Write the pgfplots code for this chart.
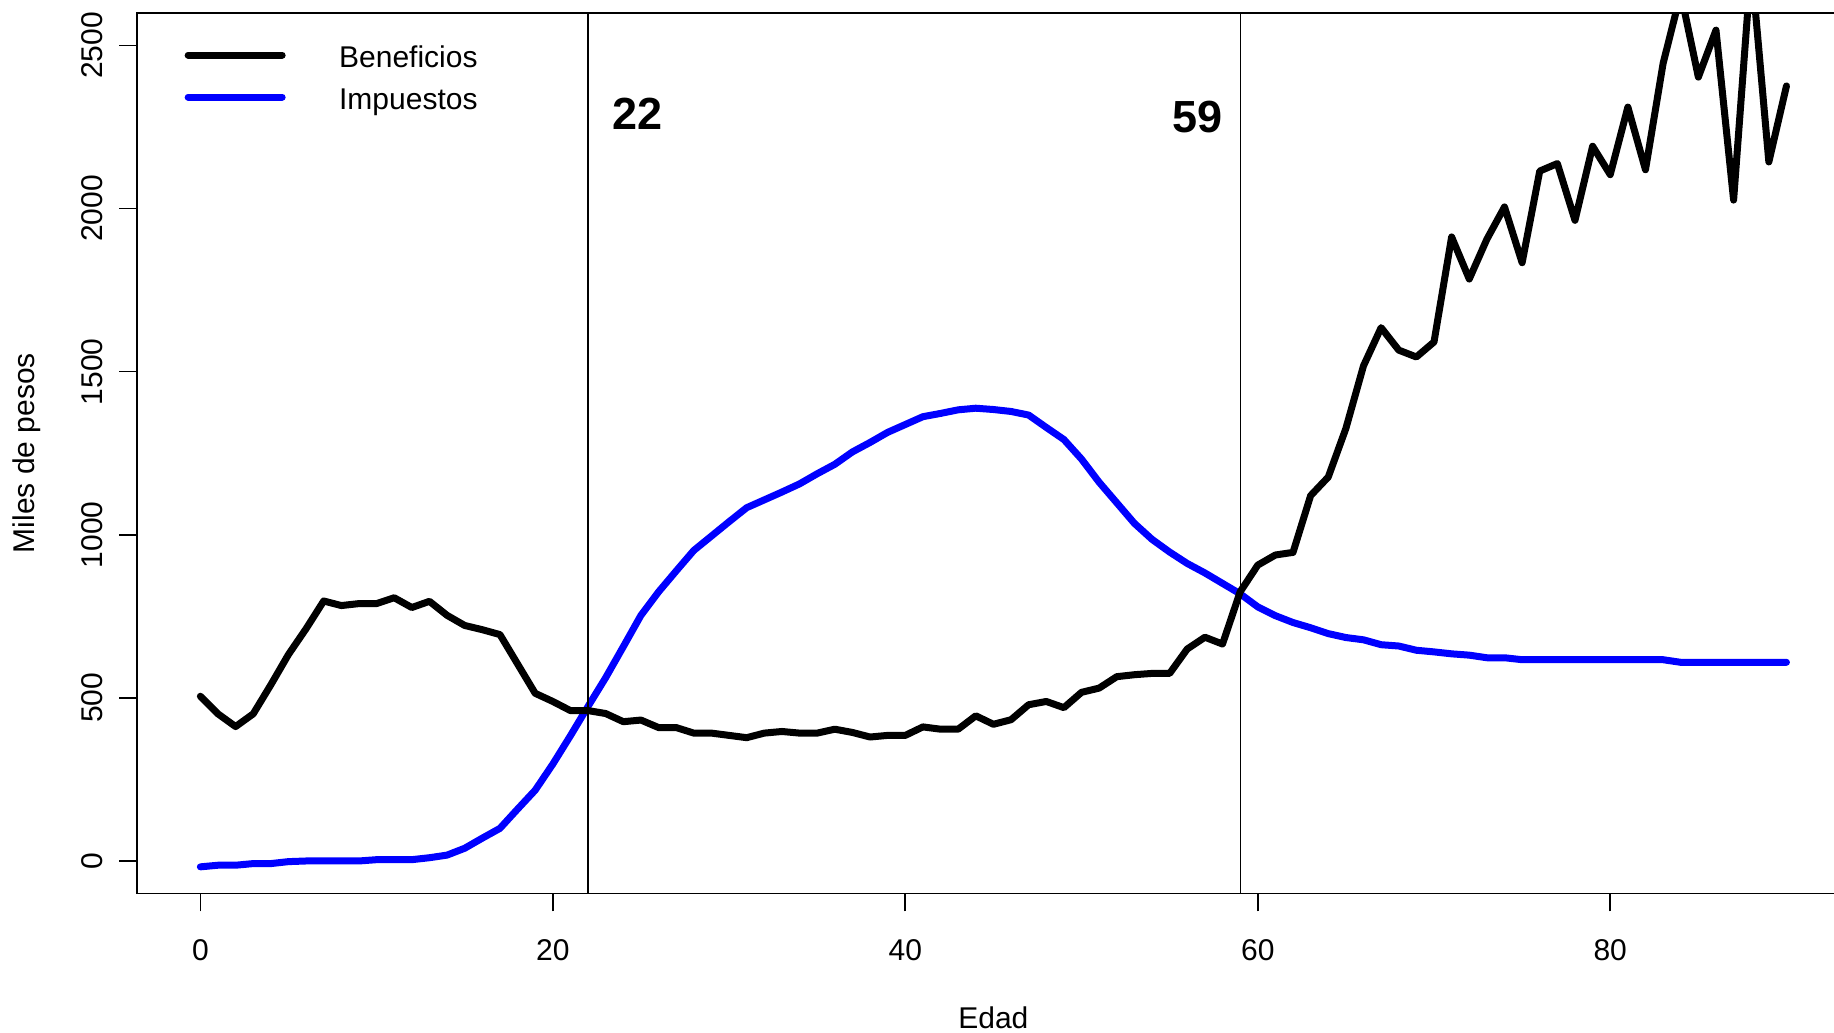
\documentclass[border=0pt]{standalone}
\usepackage{fontspec}
\setmainfont{Liberation Sans}
\usepackage{pgfplots}
\pgfplotsset{compat=1.18}
\usepackage{pgfplotstable}

\pgfplotstableread{
x y
0 505
1 451
2 412
3 451
4 540
5 633
6 712
7 797
8 783
9 789
10 789
11 807
12 777
13 796
14 753
15 722
16 709
17 694
18 604
19 514
20 489
21 461
22 461
23 452
24 427
25 432
26 409
27 409
28 392
29 392
30 385
31 378
32 392
33 397
34 392
35 392
36 404
37 394
38 380
39 385
40 385
41 411
42 404
43 404
44 445
45 419
46 433
47 479
48 489
49 470
50 517
51 530
52 565
53 571
54 575
55 575
56 650
57 686
58 665
59 825
60 907
61 938
62 946
63 1120
64 1177
65 1326
66 1518
67 1635
68 1566
69 1545
70 1591
71 1913
72 1784
73 1906
74 2005
75 1834
76 2115
77 2138
78 1964
79 2191
80 2104
81 2311
82 2119
83 2445
84 2660
85 2403
86 2547
87 2026
88 2750
89 2143
90 2376
}\beneficios

\pgfplotstableread{
x y
0 -18
1 -13
2 -13
3 -8
4 -8
5 -2
6 0
7 0
8 0
9 0
10 4
11 4
12 4
13 10
14 18
15 39
16 70
17 100
18 159
19 217
20 297
21 384
22 474
23 562
24 657
25 753
26 825
27 889
28 952
29 996
30 1040
31 1083
32 1107
33 1131
34 1156
35 1187
36 1216
37 1254
38 1283
39 1314
40 1338
41 1362
42 1372
43 1383
44 1388
45 1384
46 1378
47 1367
48 1329
49 1292
50 1232
51 1161
52 1098
53 1035
54 986
55 947
56 912
57 883
58 851
59 819
60 779
61 752
62 731
63 715
64 697
65 685
66 678
67 663
68 659
69 646
70 641
71 635
72 631
73 623
74 623
75 617
76 617
77 617
78 617
79 617
80 617
81 617
82 617
83 617
84 609
85 609
86 609
87 609
88 609
89 609
90 609
}\impuestos

\begin{document}
\begin{tikzpicture}
\begin{axis}[
  at={(0,0)}, anchor=south west,
  scale only axis, width=685.2pt, height=352.3pt,
  xmin=-3.6, xmax=93.6, ymin=-100, ymax=2600,
  axis line style={line width=0.65pt, black},
  xtick={0,20,40,60,80}, xticklabels={0,20,40,60,80},
  ytick={0,500,1000,1500,2000,2500}, yticklabels={0,500,1000,1500,2000,2500},
  tick pos=left, tick align=outside, major tick length=7.1pt,
  tick style={line width=0.65pt, black},
  xticklabel style={font=\fontsize{12}{14}\selectfont, anchor=base, yshift=-19.5pt, inner sep=0pt},
  yticklabel style={font=\fontsize{12}{14}\selectfont, rotate=90, anchor=south, inner sep=0pt, text depth=6.3pt},
  clip=true,
  legend image code/.code={\draw[#1] (0pt,0pt) -- (37.6pt,0pt);},
  legend cell align=left,
  reverse legend,
  legend style={draw=none, fill=none, at={(axis description cs:0,1)}, anchor=north west,
    xshift=19.1pt, yshift=-11.8pt, inner sep=0pt, outer sep=0pt,
    row sep=6.6pt, column sep=21.4pt,
    nodes={inner sep=0pt, text height=10.2pt, text depth=0pt, font=\fontsize{12}{14}\selectfont}},
]
\addplot[blue, line width=2.8pt, line cap=round, line join=round] table[x=x,y=y] {\impuestos};
\addplot[black, line width=2.8pt, line cap=round, line join=round] table[x=x,y=y] {\beneficios};
\legend{Impuestos, Beneficios}
\addplot[black, line width=0.5pt, forget plot] coordinates {(22,-100) (22,2600)};
\addplot[black, line width=0.5pt, forget plot] coordinates {(59,-100) (59,2600)};
\node[font=\bfseries\fontsize{18}{20}\selectfont] at (axis cs:24.8,2292) {22};
\node[font=\bfseries\fontsize{18}{20}\selectfont] at (axis cs:56.6,2282) {59};
\end{axis}
\node[rotate=90, font=\fontsize{12}{14}\selectfont] at (-43.9pt,176.15pt) {Miles de pesos};
\node[anchor=base, font=\fontsize{12}{14}\selectfont] at (342.6pt,-53.8pt) {Edad};
\pgfresetboundingbox
\useasboundingbox (-54.76pt,-55.36pt) rectangle (678.84pt,357.44pt);
\end{tikzpicture}
\end{document}
